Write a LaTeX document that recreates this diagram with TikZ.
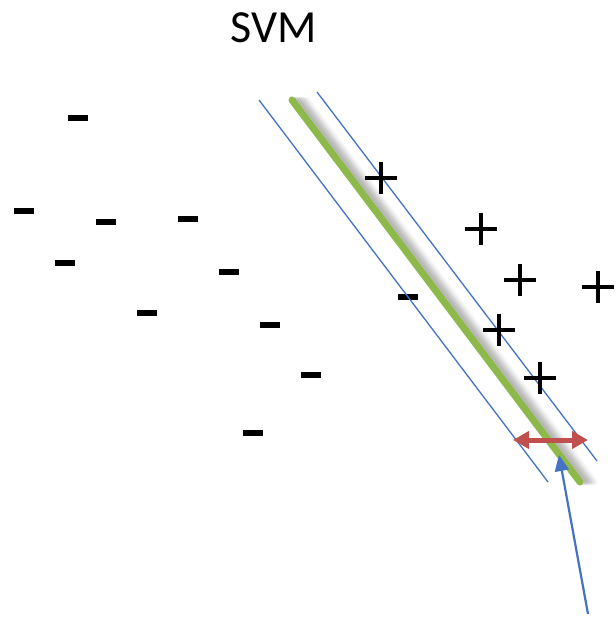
\documentclass[tikz,border=0pt]{standalone}
\usepackage{fontspec}
\setmainfont{Carlito}
\usetikzlibrary{arrows.meta,shapes.misc}
\definecolor{bline}{HTML}{4472C4}
\definecolor{gline}{HTML}{8DB94A}
\definecolor{rarrow}{HTML}{C0504D}
\tikzset{
  minussign/.style={rectangle,fill=black,minimum width=20pt,minimum height=6pt,inner sep=0pt},
  plussign/.style={cross out,draw=black,line width=4pt,rotate=45,minimum size=18.5pt,inner sep=0pt},
  margin/.style={bline,line width=1.3pt},
  hyper/.style={gline,line width=7pt,line cap=round},
}
\begin{document}
\begin{tikzpicture}[x=1pt,y=-1pt]
\useasboundingbox[fill=white] (0,0) rectangle (615,617);
\node (title) at (274,28) {\fontsize{46}{52}\selectfont SVM};
% minus points
\node[minussign] (m1) at (78,118) {};
\node[minussign] (m2) at (24,211) {};
\node[minussign] (m3) at (106,222) {};
\node[minussign] (m4) at (188,219) {};
\node[minussign] (m5) at (65,263) {};
\node[minussign] (m6) at (229,272) {};
\node[minussign] (m7) at (147,313) {};
\node[minussign] (m8) at (270,325) {};
\node[minussign] (m9) at (408,297) {};
\node[minussign] (m10) at (311,375) {};
\node[minussign] (m11) at (253,433) {};
% shadow of hyperplane
\foreach \d/\o in {3/0.09,5/0.09,7/0.08,9/0.07,11/0.05,13/0.04,15/0.03}{
  \draw[black,opacity=\o,line width=6pt,line cap=round] (292+\d,100) -- (580+\d,482);
}
% margins and hyperplane
\coordinate (l1) at (259,100);
\coordinate (l2) at (548,482);
\coordinate (r1) at (317,92);
\coordinate (r2) at (597,461);
\coordinate (g1) at (292,100);
\coordinate (g2) at (580,482);
\draw[margin] (l1) -- (l2);
\draw[margin] (r1) -- (r2);
\draw[hyper] (g1) -- (g2);
% plus points
\node[plussign] (p1) at (381,178) {};
\node[plussign] (p2) at (481,229) {};
\node[plussign] (p3) at (520,280) {};
\node[plussign] (p4) at (598,287) {};
\node[plussign] (p5) at (499,330) {};
\node[plussign] (p6) at (540,378) {};
% margin width arrow
\coordinate (wa) at (513,440);
\coordinate (wb) at (588,440);
\draw[rarrow,line width=5pt,{Triangle[length=16pt,width=17pt]}-{Triangle[length=16pt,width=17pt]}] (wa) -- (wb);
% pointer arrow
\coordinate (pa) at (588,614);
\coordinate (pb) at (559,455);
\draw[bline,line width=2.2pt,-{Triangle[length=16pt,width=14pt]}] (pa) -- (pb);
\end{tikzpicture}
\end{document}
